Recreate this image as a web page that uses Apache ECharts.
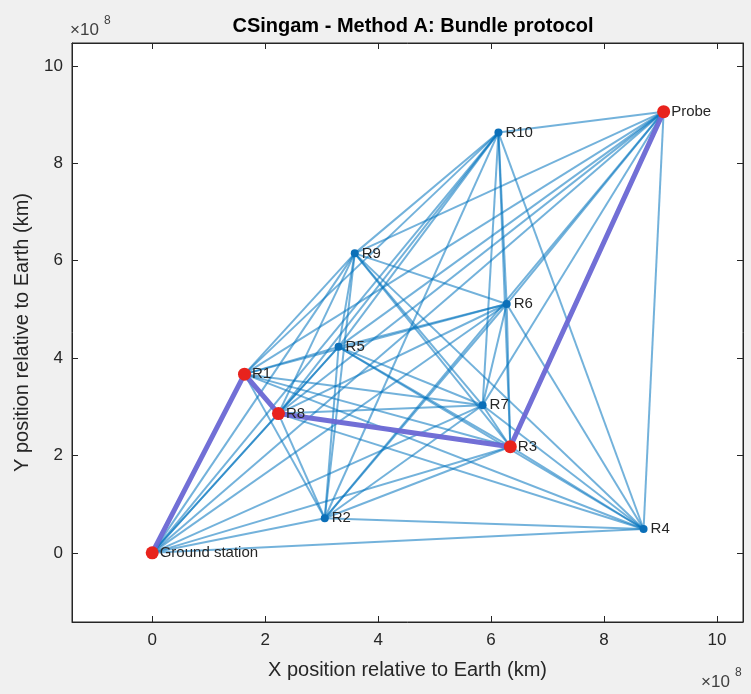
<!DOCTYPE html>
<html><head><meta charset="utf-8">
<script src="https://cdn.jsdelivr.net/npm/echarts@6/dist/echarts.min.js"></script>
<style>html,body{margin:0;padding:0;background:#f0f0f0}#c{width:751px;height:694px}</style>
</head><body><div id="c"></div><script>
// ---- data (units of 1e8 km) ----
const nodeNames = ['Ground station','R1','R2','R3','R4','R5','R6','R7','R8','R9','R10','Probe'];
const nodeX = [0, 1.634, 3.055, 6.34, 8.70, 3.30, 6.276, 5.85, 2.235, 3.586, 6.13, 9.055];
const nodeY = [0, 3.67, 0.71, 2.18, 0.49, 4.23, 5.11, 3.03, 2.86, 6.15, 8.63, 9.06];
const pathNodes = ['Ground station','R1','R8','R3','Probe'];
const edges = [
  ['Ground station','R2'],['Ground station','R3'],['Ground station','R4'],['Ground station','R5'],
  ['Ground station','R6'],['Ground station','R7'],['Ground station','R8'],['Ground station','R9'],
  ['Ground station','R10'],['Ground station','Probe'],
  ['R1','R2'],['R1','R3'],['R1','R4'],['R1','R5'],['R1','R6'],['R1','R7'],['R1','R9'],['R1','R10'],['R1','Probe'],
  ['R2','R3'],['R2','R4'],['R2','R5'],['R2','R6'],['R2','R7'],['R2','R8'],['R2','R9'],['R2','R10'],['R2','Probe'],
  ['R3','R4'],['R3','R5'],['R3','R6'],['R3','R7'],['R3','R9'],['R3','R10'],
  ['R4','R5'],['R4','R6'],['R4','R7'],['R4','R8'],['R4','R9'],['R4','R10'],['R4','Probe'],
  ['R5','R6'],['R5','R7'],['R5','R8'],['R5','R9'],['R5','R10'],['R5','Probe'],
  ['R6','R7'],['R6','R8'],['R6','R9'],['R6','R10'],['R6','Probe'],
  ['R7','R8'],['R7','R9'],['R7','R10'],['R7','Probe'],
  ['R8','R9'],['R8','R10'],['R8','Probe'],
  ['R9','R10'],['R9','Probe'],
  ['R10','Probe']
];
const xTicks = [0, 2, 4, 6, 8, 10];
const yTicks = [0, 2, 4, 6, 8, 10];
const xTitle = 'X position relative to Earth (km)';
const yTitle = 'Y position relative to Earth (km)';
const chartTitle = 'CSingam - Method A: Bundle protocol';

// ---- build ----
const pos = {};
nodeNames.forEach((n, i) => { pos[n] = [nodeX[i], nodeY[i]]; });
const FONT = 'Liberation Sans, Arial, Helvetica, sans-serif';
const AX = '#262626';
const xr = {min: -1.42, max: 10.46}, yr = {min: -1.42, max: 10.47};

function mkAxis(kind, position, main) {
  const ticks = kind === 'x' ? xTicks : yTicks;
  const r = kind === 'x' ? xr : yr;
  const a = {
    type: 'value', position, min: r.min, max: r.max,
    axisLine: {show: true, onZero: false, lineStyle: {color: AX, width: 1}},
    axisTick: {show: true, inside: true, length: 6, customValues: ticks, lineStyle: {color: AX}},
    axisLabel: {show: main, customValues: ticks, fontSize: 17, color: AX, fontFamily: FONT, margin: kind === 'x' ? 10 : 9},
    splitLine: {show: false}
  };
  if (main) {
    a.name = kind === 'x' ? xTitle : yTitle;
    a.nameLocation = 'middle';
    a.nameGap = kind === 'x' ? 38 : 40;
    a.nameTextStyle = {fontSize: 20, color: AX, fontFamily: FONT};
  }
  return a;
}

const pathSet = new Set(pathNodes);
const chart = echarts.init(document.getElementById('c'), null, {renderer: 'canvas'});
chart.setOption({
  backgroundColor: '#f0f0f0',
  animation: false,
  title: {text: chartTitle, left: 408, top: 11, textAlign: 'center',
    textStyle: {fontSize: 20, fontWeight: 'bold', color: '#000', fontFamily: FONT}},
  grid: {left: 72, right: 8, top: 43, bottom: 72, show: true, backgroundColor: '#fff', borderColor: AX, borderWidth: 1},
  xAxis: [mkAxis('x', 'bottom', true), mkAxis('x', 'top', false)],
  yAxis: [mkAxis('y', 'left', true), mkAxis('y', 'right', false)],
  graphic: [
    {type: 'text', left: 70, top: 22, style: {text: '×10', fontSize: 17, fill: '#404040', fontFamily: FONT}},
    {type: 'text', left: 104, top: 15, style: {text: '8', fontSize: 12, fill: '#404040', fontFamily: FONT}},
    {type: 'text', left: 701, top: 674, style: {text: '×10', fontSize: 17, fill: '#404040', fontFamily: FONT}},
    {type: 'text', left: 735, top: 667, style: {text: '8', fontSize: 12, fill: '#404040', fontFamily: FONT}}
  ],
  series: [
    {
      type: 'lines', coordinateSystem: 'cartesian2d', xAxisIndex: 0, yAxisIndex: 0, z: 1,
      silent: true,
      lineStyle: {color: '#0072bd', opacity: 0.55, width: 2},
      data: edges.map(([a, b]) => ({coords: [pos[a], pos[b]]}))
    },
    {
      type: 'line', xAxisIndex: 0, yAxisIndex: 0, z: 2, showSymbol: false, silent: true,
      lineStyle: {color: '#6a67d4', width: 5, opacity: 0.95},
      data: pathNodes.map(n => pos[n])
    },
    {
      type: 'scatter', xAxisIndex: 0, yAxisIndex: 0, z: 3, symbolSize: 8,
      itemStyle: {color: '#0b6fb8', opacity: 1},
      label: {show: true, position: 'right', distance: 3, formatter: '{b}', fontSize: 15, color: AX, fontFamily: FONT},
      data: nodeNames.filter(n => !pathSet.has(n)).map(n => ({name: n, value: pos[n]}))
    },
    {
      type: 'scatter', xAxisIndex: 0, yAxisIndex: 0, z: 4, symbolSize: 13,
      itemStyle: {color: '#e8231d', opacity: 1},
      label: {show: true, position: 'right', distance: 1, formatter: '{b}', fontSize: 15, color: AX, fontFamily: FONT},
      data: nodeNames.filter(n => pathSet.has(n)).map(n => ({name: n, value: pos[n]}))
    }
  ]
});
</script></body></html>
